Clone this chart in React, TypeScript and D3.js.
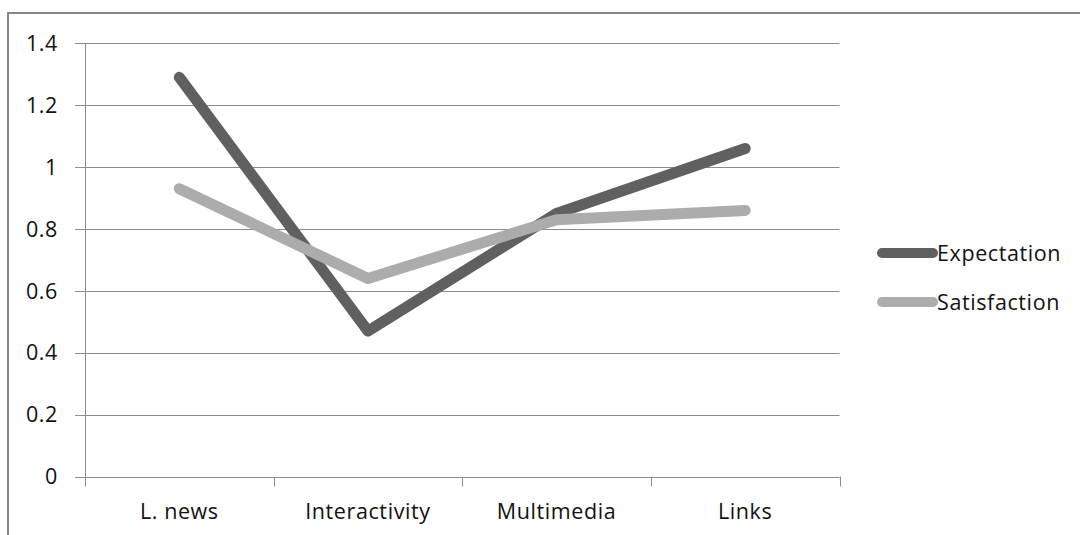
import React from "react";
import * as d3 from "d3";

const categories = ["L. news", "Interactivity", "Multimedia", "Links"];
const expectation = [1.29, 0.47, 0.85, 1.06];
const satisfaction = [0.93, 0.64, 0.83, 0.86];
const yTicks = [0, 0.2, 0.4, 0.6, 0.8, 1, 1.2, 1.4];
const seriesNames = ["Expectation", "Satisfaction"];
const seriesColors = ["#606060", "#acacac"];

const W = 1080;
const H = 535;
const FONT = "'Open Sans', Lato, sans-serif";
const FS = 21.5;
const LS = 0.6;

export default function App() {
  const x = d3.scaleBand<string>().domain(categories).range([85, 839.5]).padding(0);
  const y = d3.scaleLinear().domain([0, 1.4]).range([476.5, 43.3]);
  const line = d3
    .line<number>()
    .x((_, i) => (x(categories[i]) as number) + x.bandwidth() / 2)
    .y((d) => y(d));
  const series = [expectation, satisfaction];
  const boundaries = [...categories.map((c) => x(c) as number), x.range()[1]];

  return (
    <svg
      width={W}
      height={H}
      style={{ position: "absolute", left: 0, top: 0, background: "#fff" }}
      fontFamily={FONT}
    >
      <rect x={0} y={0} width={W} height={H} fill="#fff" />
      {/* outer border (top and left only visible) */}
      <line x1={8} x2={W} y1={13} y2={13} stroke="#878787" strokeWidth={2} />
      <line x1={8} x2={8} y1={12} y2={H} stroke="#878787" strokeWidth={2} />

      {/* gridlines */}
      {yTicks.map((t) => (
        <g key={t}>
          <line x1={75} x2={839.5} y1={Math.round(y(t)) + 0.5} y2={Math.round(y(t)) + 0.5} stroke="#8c8c8c" strokeWidth={1} />
          <text
            x={58}
            y={y(t)}
            dy="0.36em"
            textAnchor="end"
            fontSize={FS}
            letterSpacing={LS}
            fill="#111"
          >
            {d3.format("~g")(t)}
          </text>
        </g>
      ))}
      {/* y axis */}
      <line x1={85.5} x2={85.5} y1={y(1.4)} y2={y(0)} stroke="#8c8c8c" strokeWidth={1} />
      {/* x ticks */}
      {boundaries.map((b, i) => (
        <line key={i} x1={Math.round(b) + 0.5} x2={Math.round(b) + 0.5} y1={y(0)} y2={y(0) + 10} stroke="#8c8c8c" strokeWidth={1} />
      ))}
      {categories.map((c) => (
        <text
          key={c}
          x={(x(c) as number) + x.bandwidth() / 2}
          y={519}
          textAnchor="middle"
          fontSize={FS}
          letterSpacing={LS}
          fill="#111"
        >
          {c}
        </text>
      ))}

      {/* lines */}
      {series.map((s, i) => (
        <path
          key={i}
          d={line(s) as string}
          fill="none"
          stroke={seriesColors[i]}
          strokeWidth={11}
          strokeLinecap="round"
          strokeLinejoin="round"
        />
      ))}

      {/* legend */}
      {seriesNames.map((n, i) => {
        const ly = 253 + i * 49;
        return (
          <g key={n}>
            <line x1={882} x2={933} y1={ly} y2={ly} stroke={seriesColors[i]} strokeWidth={10} strokeLinecap="round" />
            <text x={937} y={ly} dy="0.36em" fontSize={FS} letterSpacing={LS} fill="#111">
              {n}
            </text>
          </g>
        );
      })}
    </svg>
  );
}
